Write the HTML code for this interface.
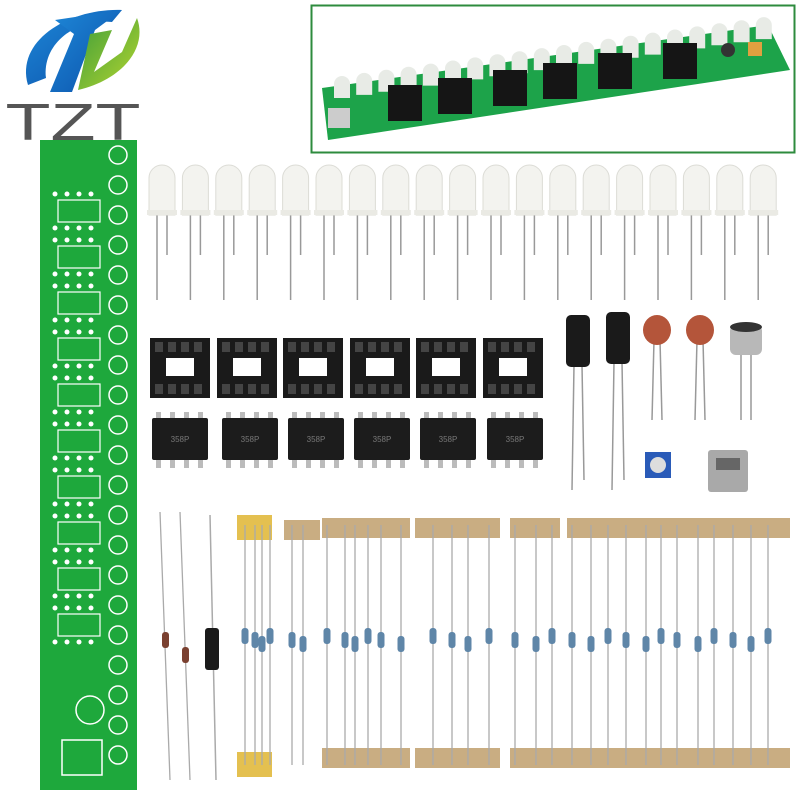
<!DOCTYPE html>
<html><head><meta charset="utf-8"><style>
body{margin:0;background:#fff;width:800px;height:800px;overflow:hidden}
svg{display:block}
</style></head><body>
<svg id="s" width="800" height="800" viewBox="0 0 800 800" xmlns="http://www.w3.org/2000/svg">
<defs>
<linearGradient id="bl" x1="0" y1="0" x2="1" y2="1"><stop offset="0" stop-color="#1e88d8"/><stop offset="1" stop-color="#0b4fa8"/></linearGradient>
<linearGradient id="gr" x1="0" y1="0" x2="1" y2="1"><stop offset="0" stop-color="#3f9e3a"/><stop offset="1" stop-color="#b5d530"/></linearGradient>
</defs>
<rect width="800" height="800" fill="#fff"/>
<!-- logo -->
<path d="M28 85 C15 40 70 8 122 10 L112 22 C78 18 42 42 46 78 Z" fill="url(#bl)"/>
<path d="M55 20 L122 10 L95 30 L72 92 L50 92 L74 34 Z" fill="url(#bl)"/>
<path d="M90 34 L112 30 L94 72 L122 52 L137 18 C148 48 122 80 78 90 Z" fill="url(#gr)"/>
<text x="73" y="140" font-family="Liberation Sans, sans-serif" font-size="52" fill="#555" text-anchor="middle" textLength="135" lengthAdjust="spacingAndGlyphs">TZT</text>
<!-- top right box -->
<rect x="311.5" y="5.5" width="483" height="147" fill="#fff" stroke="#2e8b3e" stroke-width="2"/>
<polygon points="322,88 768,25 790,70 328,140" fill="#1da34a"/>
<g id="topleds"></g>
<!-- left pcb -->
<rect x="40" y="140" width="97" height="650" fill="#1ea83c"/>
<g id="pcb"></g>
<g id="rest"></g>
</svg>
<script>
const NS="http://www.w3.org/2000/svg";
function el(p,t,a){const e=document.createElementNS(NS,t);for(const k in a)e.setAttribute(k,a[k]);p.appendChild(e);return e;}
const s=document.getElementById('rest'),pcb=document.getElementById('pcb'),tl=document.getElementById('topleds');
for(let i=0;i<20;i++){const x=342+i*22.2,y=88-i*3.1;el(tl,'path',{d:`M${x-8} ${y+10} L${x-8} ${y-4} A8 8 0 0 1 ${x+8} ${y-4} L${x+8} ${y+10} Z`,fill:'#e8ebe6'});}
[[405,112],[455,105],[510,97],[560,90],[615,80],[680,70]].forEach(([x,y])=>el(tl,'rect',{x:x-17,y:y-27,width:34,height:36,fill:'#151515'}));
el(tl,'rect',{x:328,y:108,width:22,height:20,fill:'#ccc'});
el(tl,'circle',{cx:728,cy:50,r:7,fill:'#333'});el(tl,'rect',{x:748,y:42,width:14,height:14,fill:'#e0a040'});
// pcb details
for(let i=0;i<21;i++){const y=155+i*30;el(pcb,'circle',{cx:118,cy:y,r:9,fill:'none',stroke:'#fff','stroke-width':1.5});}
for(let i=0;i<10;i++){const y=200+i*46;el(pcb,'rect',{x:58,y:y,width:42,height:22,fill:'none',stroke:'#fff','stroke-width':1.2});
 for(let j=0;j<4;j++){el(pcb,'circle',{cx:55+j*12,cy:y-6,r:2.5,fill:'#fff'});el(pcb,'circle',{cx:55+j*12,cy:y+28,r:2.5,fill:'#fff'});}}
el(pcb,'circle',{cx:90,cy:710,r:14,fill:'none',stroke:'#fff','stroke-width':1.5});
el(pcb,'rect',{x:62,y:740,width:40,height:35,fill:'none',stroke:'#fff','stroke-width':1.5});
// LEDs
for(let i=0;i<19;i++){const x=162+i*33.4;
 el(s,'line',{x1:x-5,y1:210,x2:x-5,y2:300,stroke:'#999','stroke-width':1.5});
 el(s,'line',{x1:x+5,y1:210,x2:x+5,y2:255,stroke:'#999','stroke-width':1.5});
 el(s,'path',{d:`M${x-13} 215 L${x-13} 178 A13 13 0 0 1 ${x+13} 178 L${x+13} 215 Z`,fill:'#f3f3ef',stroke:'#dcdcd6'});
 el(s,'rect',{x:x-15,y:210,width:30,height:5,fill:'#eaeae4'});}
// sockets
[180,247,313,380,446,513].forEach(x=>{el(s,'rect',{x:x-30,y:338,width:60,height:60,fill:'#1a1a1a'});
 el(s,'rect',{x:x-14,y:358,width:28,height:18,fill:'#fff'});
 for(let j=0;j<4;j++){el(s,'rect',{x:x-25+j*13,y:342,width:8,height:10,fill:'#444'});el(s,'rect',{x:x-25+j*13,y:384,width:8,height:10,fill:'#444'});}});
// ICs
[180,250,316,382,448,515].forEach(x=>{
 for(let j=0;j<4;j++){el(s,'rect',{x:x-24+j*14,y:412,width:5,height:56,fill:'#bbb'});}
 el(s,'rect',{x:x-28,y:418,width:56,height:42,fill:'#1c1c1c',rx:2});
 el(s,'text',{x:x,y:442,'font-size':8,fill:'#777','text-anchor':'middle','font-family':'Liberation Sans, sans-serif'}).textContent='358P';});
// electrolytic caps
[[578,315],[618,312]].forEach(([x,y])=>{el(s,'line',{x1:x-4,y1:y+50,x2:x-6,y2:490,stroke:'#999','stroke-width':1.5});el(s,'line',{x1:x+4,y1:y+50,x2:x+6,y2:480,stroke:'#999','stroke-width':1.5});
 el(s,'rect',{x:x-12,y:y,width:24,height:52,rx:5,fill:'#1a1a1a'});});
// ceramic caps
[657,700].forEach(x=>{el(s,'line',{x1:x-3,y1:340,x2:x-5,y2:420,stroke:'#999','stroke-width':1.5});el(s,'line',{x1:x+3,y1:340,x2:x+5,y2:420,stroke:'#999','stroke-width':1.5});
 el(s,'ellipse',{cx:x,cy:330,rx:14,ry:15,fill:'#b4553a'});});
// mic
el(s,'line',{x1:741,y1:350,x2:741,y2:420,stroke:'#999','stroke-width':1.5});el(s,'line',{x1:751,y1:350,x2:751,y2:420,stroke:'#999','stroke-width':1.5});
el(s,'rect',{x:730,y:325,width:32,height:30,rx:6,fill:'#b8b8b8'});
el(s,'ellipse',{cx:746,cy:327,rx:16,ry:5,fill:'#333'});
// pot + usb
el(s,'rect',{x:645,y:452,width:26,height:26,fill:'#2a5bb8'});el(s,'circle',{cx:658,cy:465,r:8,fill:'#ddd'});
el(s,'rect',{x:708,y:450,width:40,height:42,rx:3,fill:'#a9a9a9'});el(s,'rect',{x:716,y:458,width:24,height:12,fill:'#666'});
// tape strips
[[322,518,88],[415,518,85],[510,518,50],[567,518,223],[322,748,88],[415,748,85],[510,748,280]].forEach(([x,y,w])=>el(s,'rect',{x:x,y:y,width:w,height:20,fill:'#c9ad82'}));
el(s,'rect',{x:237,y:515,width:35,height:25,fill:'#e4c050'});el(s,'rect',{x:237,y:752,width:35,height:25,fill:'#e4c050'});
el(s,'rect',{x:284,y:520,width:36,height:20,fill:'#c9ad82'});
// resistors
const rx=[245,255,262,270,292,303,327,345,355,368,381,401,433,452,468,489,515,536,552,572,591,608,626,646,661,677,698,714,733,751,768];
rx.forEach((x,i)=>{const y=640+((i%3)-1)*4;el(s,'line',{x1:x,y1:525,x2:x,y2:765,stroke:'#aaa','stroke-width':1.3});
 el(s,'rect',{x:x-3.5,y:y-8,width:7,height:16,rx:3,fill:'#5f86a8'});});
// diodes
[[165,640],[185,655]].forEach(([x,y])=>{el(s,'line',{x1:x-5,y1:512,x2:x+5,y2:780,stroke:'#aaa','stroke-width':1.3});el(s,'rect',{x:x-3,y:y-8,width:7,height:16,rx:3,fill:'#7a4030'});});
el(s,'line',{x1:210,y1:515,x2:216,y2:780,stroke:'#aaa','stroke-width':1.5});
el(s,'rect',{x:205,y:628,width:14,height:42,rx:3,fill:'#1a1a1a'});
</script>
</body></html>
